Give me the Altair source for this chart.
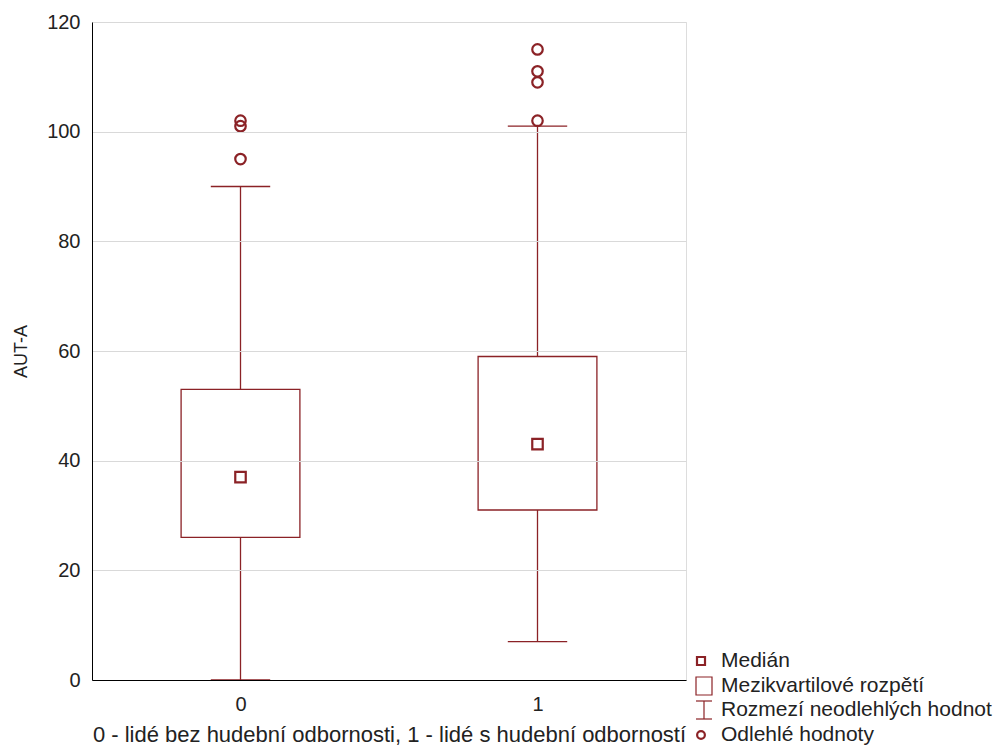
import altair as alt
import pandas as pd

# ---- data ----
groups = [0, 1]
q1 = [26, 31]
median = [37, 43]
q3 = [53, 59]
whisker_lo = [0, 7]
whisker_hi = [90, 101]
outliers_group = [0, 0, 0, 1, 1, 1, 1]
outliers_value = [95, 101, 102, 102, 109, 111, 115]

legend_labels = ["Medián", "Mezikvartilové rozpětí", "Rozmezí neodlehlých hodnot", "Odlehlé hodnoty"]
x_title = "0 - lidé bez hudební odbornosti, 1 - lidé s hudební odborností"
y_title = "AUT-A"

RED = "#8B2226"
FONT = "Liberation Sans"
BOX_HALF = 0.2
CAP_HALF = 0.1

stats = pd.DataFrame({
    "g": groups, "q1": q1, "med": median, "q3": q3,
    "lo": whisker_lo, "hi": whisker_hi,
})
stats["bl"] = stats["g"] - BOX_HALF
stats["br"] = stats["g"] + BOX_HALF
stats["cl"] = stats["g"] - CAP_HALF
stats["cr"] = stats["g"] + CAP_HALF
out = pd.DataFrame({"g": outliers_group, "v": outliers_value})

xscale = alt.Scale(domain=[-0.5, 1.5], nice=False, zero=False)
yscale = alt.Scale(domain=[0, 120], nice=False)

xaxis = alt.Axis(values=[0, 1], format="d", grid=False, ticks=False, title=x_title,
                 labelFontSize=20, titleFontSize=22, labelPadding=14, titlePadding=10,
                 labelFont=FONT, titleFont=FONT, labelColor="#222", titleColor="#222",
                 titleFontWeight="normal", domainColor="#000", zindex=1)
yaxis = alt.Axis(values=[0, 20, 40, 60, 80, 100, 120], grid=True, gridColor="#d9d9d9",
                 ticks=False, title=y_title, labelFontSize=20, titleFontSize=18,
                 labelPadding=12, titlePadding=16, labelFont=FONT, titleFont=FONT,
                 labelColor="#222", titleColor="#222", titleFontWeight="normal",
                 domainColor="#000", zindex=1)

base = alt.Chart(stats)

box = base.mark_rect(fill="white", stroke=RED, strokeWidth=1.3).encode(
    x=alt.X("bl:Q", scale=xscale, axis=xaxis), x2="br:Q",
    y=alt.Y("q1:Q", scale=yscale, axis=yaxis), y2="q3:Q",
)
upper = base.mark_rule(color=RED, strokeWidth=1.3).encode(x="g:Q", y="q3:Q", y2="hi:Q")
lower = base.mark_rule(color=RED, strokeWidth=1.3).encode(x="g:Q", y="lo:Q", y2="q1:Q")
cap_hi = base.mark_rule(color=RED, strokeWidth=1.3).encode(x="cl:Q", x2="cr:Q", y="hi:Q")
cap_lo = base.mark_rule(color=RED, strokeWidth=1.3).encode(x="cl:Q", x2="cr:Q", y="lo:Q")
med = base.mark_point(shape="square", filled=False, color=RED, size=110, strokeWidth=2.2,
                      opacity=1).encode(x="g:Q", y="med:Q")
pts = alt.Chart(out).mark_point(shape="circle", filled=False, color=RED, size=110,
                                strokeWidth=2.2, opacity=1).encode(x="g:Q", y="v:Q")

# ---- hand-made legend (chrome, placed right of the plot) ----
leg = pd.DataFrame({"label": legend_labels})
LX_TEXT = 629
LX_SYM = 612
ROWS = [639, 664, 688, 713]
legend_layers = []
for i, lab in enumerate(legend_labels):
    legend_layers.append(
        alt.Chart(leg.iloc[[i]]).mark_text(align="left", baseline="middle", fontSize=21,
                                            font=FONT, color="#222").encode(
            x=alt.value(LX_TEXT), y=alt.value(ROWS[i]), text="label:N")
    )
one = pd.DataFrame({"k": [1]})
sym_med = alt.Chart(one).mark_point(shape="square", filled=False, color=RED, size=64,
                                    strokeWidth=2.2, opacity=1).encode(
    x=alt.value(LX_SYM - 3), y=alt.value(ROWS[0]))
sym_box = alt.Chart(one).mark_rect(fill="white", stroke=RED, strokeWidth=1.2).encode(
    x=alt.value(LX_SYM - 8), x2=alt.value(LX_SYM + 8),
    y=alt.value(ROWS[1] - 9), y2=alt.value(ROWS[1] + 9))
sym_bar_v = alt.Chart(one).mark_rule(color=RED, strokeWidth=1.2).encode(
    x=alt.value(LX_SYM), y=alt.value(ROWS[2] - 9), y2=alt.value(ROWS[2] + 9))
sym_bar_t = alt.Chart(one).mark_rule(color=RED, strokeWidth=1.2).encode(
    x=alt.value(LX_SYM - 8), x2=alt.value(LX_SYM + 8), y=alt.value(ROWS[2] - 9))
sym_bar_b = alt.Chart(one).mark_rule(color=RED, strokeWidth=1.2).encode(
    x=alt.value(LX_SYM - 8), x2=alt.value(LX_SYM + 8), y=alt.value(ROWS[2] + 9))
sym_out = alt.Chart(one).mark_point(shape="circle", filled=False, color=RED, size=60,
                                    strokeWidth=2.2, opacity=1).encode(
    x=alt.value(LX_SYM - 3), y=alt.value(ROWS[3]))

chart = alt.layer(
    box, upper, lower, cap_hi, cap_lo, med, pts,
    sym_med, sym_box, sym_bar_v, sym_bar_t, sym_bar_b, sym_out, *legend_layers
).properties(
    width=594, height=658,
    autosize=alt.AutoSizeParams(type="none"),
    padding={"left": 84, "top": 14, "right": 308, "bottom": 72},
).configure_view(stroke="#000", strokeWidth=1).configure(background="white")

chart.save("out.html", embed_options={"renderer": "svg", "actions": False})
